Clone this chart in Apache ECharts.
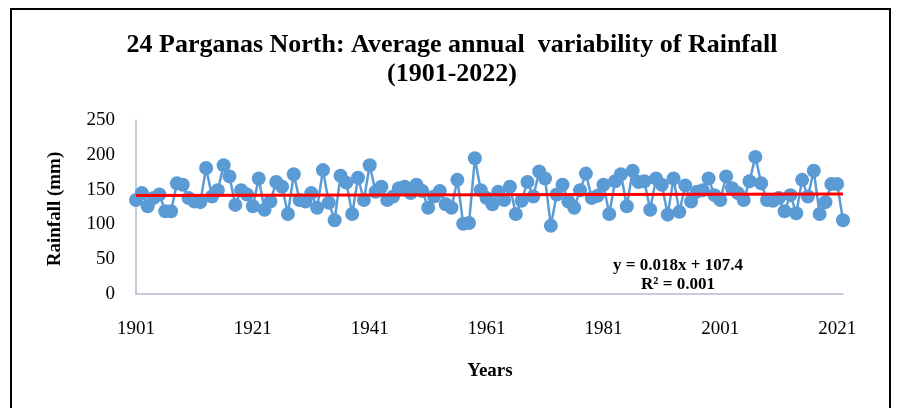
<!DOCTYPE html>
<html><head><meta charset="utf-8">
<script src="https://cdn.jsdelivr.net/npm/echarts@6/dist/echarts.min.js"></script>
<style>html,body{margin:0;padding:0;background:#fff}#c{width:897px;height:408px}</style>
</head><body><div id="c"></div>
<script>
const years = [];
for (let y = 1901; y <= 2022; y++) years.push(y);
const rainfall = [
135,145,126,138,143,119,119,159,157,138,
133,132,181,140,149,185,169,128,149,143,
126,166,121,133,161,154,115,172,135,133,
145,124,178,131,106,170,160,115,167,135,
185,147,154,135,140,152,154,145,157,148,
124,140,148,129,124,164,101,102,195,149,
138,129,147,135,154,115,134,161,140,176,
166,98,143,157,133,124,149,173,138,141,
157,115,162,172,126,177,161,162,121,166,
157,114,166,118,156,133,147,149,166,142,
135,169,152,145,135,162,197,159,135,134,
138,119,142,116,164,140,177,115,132,158,
158,106
];
const xTicks = [1901, 1921, 1941, 1961, 1981, 2001, 2021];
const yTicks = [0, 50, 100, 150, 200, 250];
const trendSlope = 0.018, trendIntercept = 107.4;
const trendText = ['y = 0.018x + 107.4', 'R² = 0.001'];
const titleLines = ['24 Parganas North: Average annual  variability of Rainfall', '(1901-2022)'];

const seriesData = years.map((y, i) => [y, rainfall[i]]);
const firstYear = years[0], lastYear = years[years.length - 1];
const trendData = [[firstYear, trendSlope * firstYear + trendIntercept], [lastYear, trendSlope * lastYear + trendIntercept]];

const serif = '"Liberation Serif", "Times New Roman", serif';
const chart = echarts.init(document.getElementById('c'));
chart.setOption({
  animation: false,
  backgroundColor: '#fff',
  grid: { left: 136, right: 54, top: 120, bottom: 114, containLabel: false },
  xAxis: {
    type: 'value', min: 1901, max: 2022, interval: 20,
    axisLine: { show: true, lineStyle: { color: '#B4BCCB', width: 1.5 } },
    axisTick: { show: false },
    splitLine: { show: false },
    axisLabel: { fontFamily: serif, fontSize: 19, color: '#000', margin: 26, showMaxLabel: false,
      formatter: v => xTicks.includes(v) ? String(v) : '' }
  },
  yAxis: {
    type: 'value', min: 0, max: 250, interval: 50,
    axisLine: { show: true, lineStyle: { color: '#B4BCCB', width: 1.5 } },
    axisTick: { show: false },
    splitLine: { show: false },
    axisLabel: { fontFamily: serif, fontSize: 19, color: '#000', margin: 21,
      formatter: v => yTicks.includes(v) ? String(v) : '' }
  },
  series: [
    {
      type: 'line', data: seriesData, symbol: 'circle', symbolSize: 14,
      itemStyle: { color: '#5B9BD5' },
      lineStyle: { color: '#5B9BD5', width: 2.5 },
      z: 2
    },
    {
      type: 'line', data: trendData, symbol: 'none',
      lineStyle: { color: '#FF0000', width: 3 },
      z: 3
    }
  ],
  graphic: [
    { type: 'rect', shape: { x: 11, y: 9, width: 879, height: 420 }, style: { fill: 'none', stroke: '#000', lineWidth: 2 }, silent: true },
    { type: 'text', x: 452, y: 45, style: { text: titleLines[0], font: 'bold 26px ' + serif, fill: '#000', textAlign: 'center', textVerticalAlign: 'middle' } },
    { type: 'text', x: 452, y: 74, style: { text: titleLines[1], font: 'bold 26px ' + serif, fill: '#000', textAlign: 'center', textVerticalAlign: 'middle' } },
    { type: 'text', x: 55, y: 209, rotation: Math.PI / 2, style: { text: 'Rainfall (mm)', font: 'bold 19px ' + serif, fill: '#000', textAlign: 'center', textVerticalAlign: 'middle' } },
    { type: 'text', x: 490, y: 371, style: { text: 'Years', font: 'bold 19px ' + serif, fill: '#000', textAlign: 'center', textVerticalAlign: 'middle' } },
    { type: 'text', x: 678, y: 266, style: { text: trendText[0], font: 'bold 17px ' + serif, fill: '#000', textAlign: 'center', textVerticalAlign: 'middle' } },
    { type: 'text', x: 678, y: 285, style: { text: trendText[1], font: 'bold 17px ' + serif, fill: '#000', textAlign: 'center', textVerticalAlign: 'middle' } }
  ]
});
</script></body></html>
